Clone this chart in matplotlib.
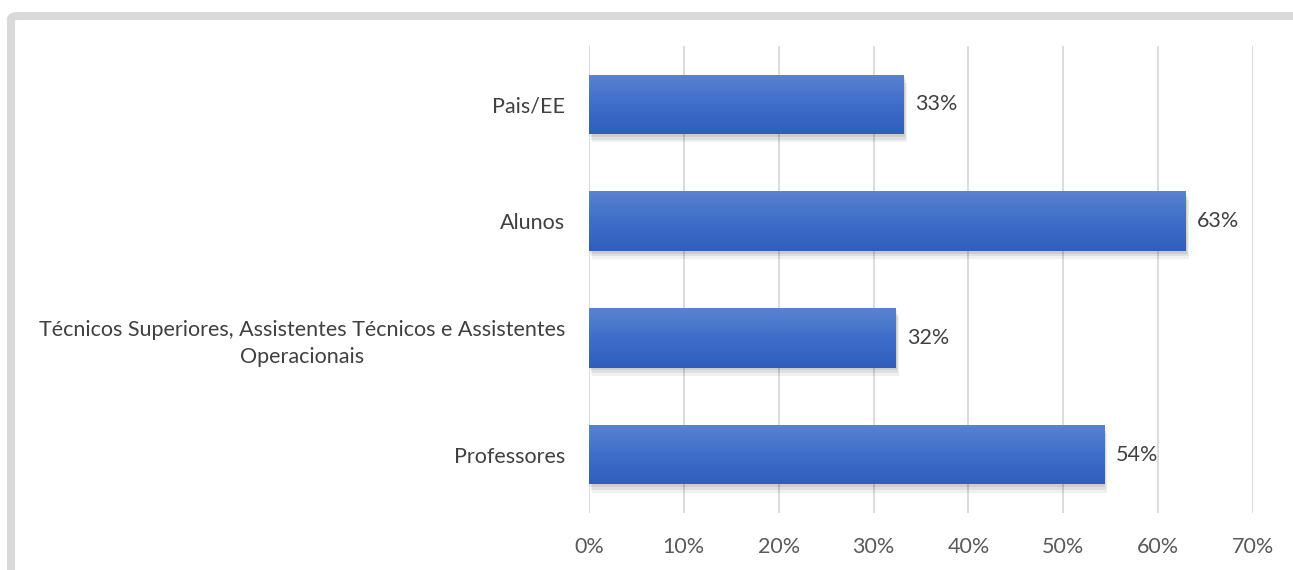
import numpy as np
import matplotlib
matplotlib.use('Agg')
import matplotlib.pyplot as plt
from matplotlib.patches import FancyBboxPatch, Rectangle

categories = ['Professores',
              'Técnicos Superiores, Assistentes Técnicos e Assistentes\nOperacionais',
              'Alunos',
              'Pais/EE']
values = [54.3, 32.3, 62.9, 33.2]
labels = ['54%', '32%', '63%', '33%']
xticks = [0, 10, 20, 30, 40, 50, 60, 70]

plt.rcParams['font.family'] = ['Lato', 'DejaVu Sans']
fs = 15.5

fig = plt.figure(figsize=(12.93, 5.70), dpi=100)
W, H = 1293, 570

# light grey chart frame (top and left edges visible)
frame = FancyBboxPatch((11 / W, -0.2), 1.2, 1.2 - 16 / H,
                       boxstyle='round,pad=0,rounding_size=0.006',
                       transform=fig.transFigure, facecolor='none',
                       edgecolor='#d9d9d9', linewidth=5.8, zorder=0)
fig.patches.append(frame)

ax = fig.add_axes([589 / W, 1 - 513 / H, (1253 - 589) / W, (513 - 46) / H])
ax.set_xlim(0, 70)
ax.set_ylim(-0.5, 3.5)

y = np.arange(len(categories))
h = 0.51

grad = np.linspace(0, 1, 256).reshape(-1, 1)
cmap = matplotlib.colors.LinearSegmentedColormap.from_list('g', ['#2f5fbe', '#3e6dca', '#5b83d1'])

for yi, v, lab in zip(y, values, labels):
    # soft shadow
    for k, a in enumerate([0.06, 0.07, 0.08]):
        d = 0.07 * (3 - k) / 3
        ax.add_patch(Rectangle((0.05 + d * 4, yi - h / 2 - d), v, h, facecolor='#000000',
                               alpha=a, edgecolor='none', zorder=2))
    bar = ax.barh(yi, v, height=h, color='#3e6dca', zorder=3)[0]
    im = ax.imshow(grad, extent=(0, v, yi - h / 2, yi + h / 2), origin='lower',
                   cmap=cmap, aspect='auto', zorder=3.5)
    im.set_clip_path(bar)
    ax.text(v + 1.2, yi, lab, va='center', ha='left', fontsize=fs, color='#404040', zorder=5)

ax.set_aspect('auto')
ax.set_xticks(xticks)
ax.set_xticklabels(['{}%'.format(t) for t in xticks], fontsize=fs, color='#595959')
ax.set_yticks(y)
ax.set_yticklabels(categories, fontsize=fs, color='#404040', multialignment='center',
                   linespacing=1.45)
ax.tick_params(axis='y', length=0, pad=17)
ax.tick_params(axis='x', length=0, pad=17)
ax.grid(axis='x', color='#d9d9d9', linewidth=1.3, zorder=0)
ax.set_axisbelow(True)
for s in ax.spines.values():
    s.set_visible(False)

fig.savefig('out.png', dpi=100)
